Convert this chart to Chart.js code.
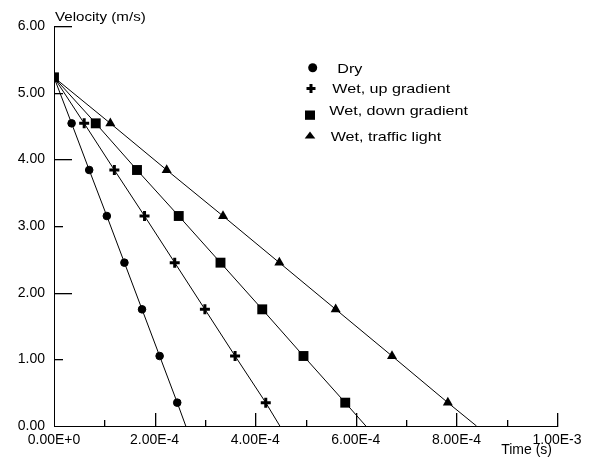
<!DOCTYPE html>
<html>
<head>
<meta charset="utf-8">
<script src="https://cdn.jsdelivr.net/npm/chart.js@4"></script>
<style>
html,body{margin:0;padding:0;background:#fff;}
canvas{display:block;}
</style>
</head>
<body>
<canvas id="c" width="589" height="464"></canvas>
<script>
// ---- data ----
const seriesNames = ['Dry', 'Wet, up gradient', 'Wet, down gradient', 'Wet, traffic light'];
const velocities = [5.23, 4.54, 3.84, 3.15, 2.45, 1.75, 1.05, 0.35];
const dryTimes   = [0, 0.35e-4, 0.70e-4, 1.05e-4, 1.40e-4, 1.75e-4, 2.10e-4, 2.45e-4];
const upTimes    = [0, 0.60e-4, 1.20e-4, 1.80e-4, 2.40e-4, 3.00e-4, 3.60e-4, 4.21e-4];
const downTimes  = [0, 0.83e-4, 1.65e-4, 2.48e-4, 3.31e-4, 4.14e-4, 4.96e-4, 5.79e-4];
const lightTimes = [0, 1.12e-4, 2.24e-4, 3.36e-4, 4.48e-4, 5.60e-4, 6.72e-4, 7.83e-4];
const stopTimes  = [2.62e-4, 4.49e-4, 6.20e-4, 8.40e-4];
const xTickLabels = ['0.00E+0', '2.00E-4', '4.00E-4', '6.00E-4', '8.00E-4', '1.00E-3'];
const yTickLabels = ['0.00', '1.00', '2.00', '3.00', '4.00', '5.00', '6.00'];

const allTimes = [dryTimes, upTimes, downTimes, lightTimes];
const styles = [
  {pointStyle: 'circle',   radius: 3.8, bw: 1, showFirst: false},
  {pointStyle: 'cross',    radius: 5,   bw: 3, showFirst: false},
  {pointStyle: 'rect',     radius: 7,   bw: 0, showFirst: true},
  {pointStyle: 'triangle', radius: 5.8, bw: 0, showFirst: false}
];

const datasets = allTimes.map((times, s) => {
  const pts = times.map((t, i) => ({x: t, y: velocities[i]}));
  pts.push({x: stopTimes[s], y: 0});
  const st = styles[s];
  const radii = pts.map((p, i) => (i === pts.length - 1 || (i === 0 && !st.showFirst)) ? 0 : st.radius);
  return {
    label: seriesNames[s],
    data: pts,
    showLine: true,
    borderColor: '#000',
    borderWidth: 1,
    backgroundColor: '#000',
    pointStyle: st.pointStyle,
    pointRadius: radii,
    pointBackgroundColor: '#000',
    pointBorderColor: '#000',
    pointBorderWidth: st.bw,
    pointHoverRadius: radii,
    order: s === 2 ? 0 : 1,
    tension: 0
  };
});

function stretchText(ctx, text, x, y, size, sx, align) {
  ctx.save();
  ctx.font = size + 'px "Liberation Sans", Arial, sans-serif';
  ctx.fillStyle = '#000';
  ctx.textBaseline = 'alphabetic';
  const w = ctx.measureText(text).width * sx;
  ctx.translate(align === 'right' ? x - w : x, y);
  ctx.scale(sx, 1);
  ctx.textAlign = 'left';
  ctx.fillText(text, 0, 0);
  ctx.restore();
}

function drawTicks(chart) {
  const ctx = chart.ctx;
  const area = chart.chartArea;
  const xs = chart.scales.x, ys = chart.scales.y;
  const left = Math.round(area.left), bottom = Math.round(area.bottom);
  ctx.save();
  ctx.fillStyle = '#000';
  for (let v = 1; v <= 6; v++) {
    const py = Math.round(ys.getPixelForValue(v));
    const len = (v % 2 === 0) ? 17 : 8;
    ctx.fillRect(left, py, len + 1, 1.3);
  }
  for (let k = 1; k <= 10; k++) {
    const px = Math.round(xs.getPixelForValue(k * 1e-4));
    const len = (k % 2 === 0) ? 13 : 6;
    ctx.fillRect(px, bottom - len, 1.3, len + 1);
  }
  ctx.restore();
}

const decor = {
  id: 'decor',
  afterDraw(chart) {
    const ctx = chart.ctx;
    drawTicks(chart);

    stretchText(ctx, 'Velocity (m/s)', 55, 20.5, 12, 1.26, 'left');
    stretchText(ctx, 'Time (s)', 552, 453.5, 14, 1.0, 'right');

    ctx.save();
    ctx.fillStyle = '#000';
    ctx.beginPath();
    ctx.arc(312.7, 67.7, 4.5, 0, Math.PI * 2);
    ctx.fill();
    ctx.fillRect(306.5, 87, 9, 3);
    ctx.fillRect(309.5, 84, 3, 9);
    ctx.fillRect(305, 110.5, 10, 9.3);
    ctx.beginPath();
    ctx.moveTo(310, 131.5);
    ctx.lineTo(315.3, 138.5);
    ctx.lineTo(304.7, 138.5);
    ctx.closePath();
    ctx.fill();
    ctx.restore();

    const legendPos = [[337.3, 73.3], [332.3, 92.5], [329.3, 114.8], [330.7, 140.5]];
    seriesNames.forEach((n, i) => stretchText(ctx, n, legendPos[i][0], legendPos[i][1], 13, 1.24, 'left'));
  }
};

new Chart(document.getElementById('c'), {
  type: 'scatter',
  data: {datasets},
  options: {
    responsive: false,
    animation: false,
    devicePixelRatio: 1,
    layout: {padding: {left: 0, right: 32, top: 26, bottom: 0}},
    plugins: {legend: {display: false}, tooltip: {enabled: false}},
    scales: {
      x: {
        type: 'linear',
        min: 0, max: 1e-3,
        grid: {display: false, drawTicks: false},
        border: {display: true, color: '#000', width: 1},
        ticks: {
          stepSize: 2e-4,
          padding: 6,
          color: '#000',
          maxRotation: 0,
          autoSkip: false,
          font: {family: '"Liberation Sans", Arial, sans-serif', size: 14},
          callback: (v, i) => xTickLabels[i]
        },
        afterFit: s => { s.height = 38; }
      },
      y: {
        type: 'linear',
        min: 0, max: 6,
        grid: {display: false, drawTicks: false},
        border: {display: true, color: '#000', width: 1},
        ticks: {
          stepSize: 1,
          padding: 9,
          color: '#000',
          autoSkip: false,
          font: {family: '"Liberation Sans", Arial, sans-serif', size: 14},
          callback: (v, i) => yTickLabels[i]
        },
        afterFit: s => { s.width = 54; }
      }
    }
  },
  plugins: [decor]
});
</script>
</body>
</html>
